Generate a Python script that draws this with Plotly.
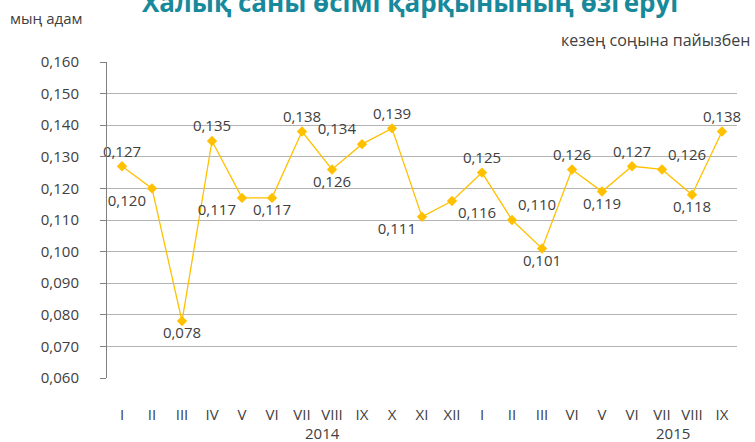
import plotly.graph_objects as go

months = ["I", "II", "III", "IV", "V", "VI", "VII", "VIII", "IX", "X", "XI", "XII",
          "I", "II", "III", "VI", "V", "VI", "VII", "VIII", "IX"]
values = [0.127, 0.120, 0.078, 0.135, 0.117, 0.117, 0.138, 0.126, 0.134, 0.139, 0.111, 0.116,
          0.125, 0.110, 0.101, 0.126, 0.119, 0.127, 0.126, 0.118, 0.138]
label_pos = ["top center", "bottom left", "bottom center", "top center", "bottom left",
             "bottom center", "top center", "bottom center", "top left", "top center",
             "bottom left", "bottom right", "top center", "top right", "bottom center",
             "top center", "bottom center", "top center", "top right", "bottom center",
             "top center"]
years = ["2014", "2015"]
year_pos = [6.67, 18.37]
title = "Халық саны өсімі қарқынының өзгеруі"
unit_left = "мың адам"
unit_right = "кезең соңына пайызбен"

FONT = "Open Sans"
TXT = "#404040"
FS = 15
x = list(range(len(values)))
labels = [f"{v:.3f}".replace(".", ",") for v in values]

fig = go.Figure()
fig.add_trace(go.Scatter(
    x=x, y=values, mode="lines+markers+text",
    line=dict(color="#FFC000", width=1.3),
    marker=dict(symbol="diamond", size=8, color="#FFC000"),
    text=labels, textposition=label_pos,
    textfont=dict(family=FONT, size=FS, color=TXT),
    cliponaxis=False, showlegend=False, hoverinfo="skip",
))

fig.add_shape(type="line", xref="paper", yref="y", x0=0, x1=1, y0=0.06, y1=0.06,
              line=dict(color="white", width=2), layer="between")

for yr, xp in zip(years, year_pos):
    fig.add_annotation(x=xp, y=0, xref="x", yref="paper", yanchor="middle", yshift=-55,
                       text=yr, showarrow=False, font=dict(family=FONT, size=FS, color=TXT))

fig.add_annotation(x=0.481, y=1.127, xref="paper", yref="paper", yanchor="bottom",
                   text=f"<b>{title}</b>", showarrow=False,
                   font=dict(family=FONT, size=26, color="#17899B"))
fig.add_annotation(x=-0.157, y=1.139, xref="paper", yref="paper", xanchor="left",
                   yanchor="middle", text=unit_left, showarrow=False,
                   font=dict(family=FONT, size=FS, color=TXT))
fig.add_annotation(x=1.024, y=1.070, xref="paper", yref="paper", xanchor="right",
                   yanchor="middle", text=unit_right, showarrow=False,
                   font=dict(family=FONT, size=16, color=TXT))

fig.update_layout(
    width=755, height=442,
    margin=dict(l=107, r=18, t=62, b=64),
    paper_bgcolor="white", plot_bgcolor="white",
    separators=",.",
    font=dict(family=FONT, size=FS, color=TXT),
    xaxis=dict(range=[-0.5, len(values) - 0.5], tickvals=x, ticktext=months,
               showgrid=False, showline=False, zeroline=False, ticks="",
               ticklabelstandoff=26, tickfont=dict(family=FONT, size=FS, color=TXT)),
    yaxis=dict(range=[0.06, 0.16], dtick=0.01, tickformat=".3f",
               showgrid=True, gridcolor="#B3B3B3", gridwidth=1,
               showline=True, linecolor="#808080", linewidth=1,
               ticks="outside", ticklen=6, tickcolor="#808080",
               zeroline=False, ticklabelstandoff=18,
               tickfont=dict(family=FONT, size=FS, color=TXT)),
)

fig.write_html("out.html", config={"displayModeBar": False},
               post_script="document.body.style.margin='0';")
